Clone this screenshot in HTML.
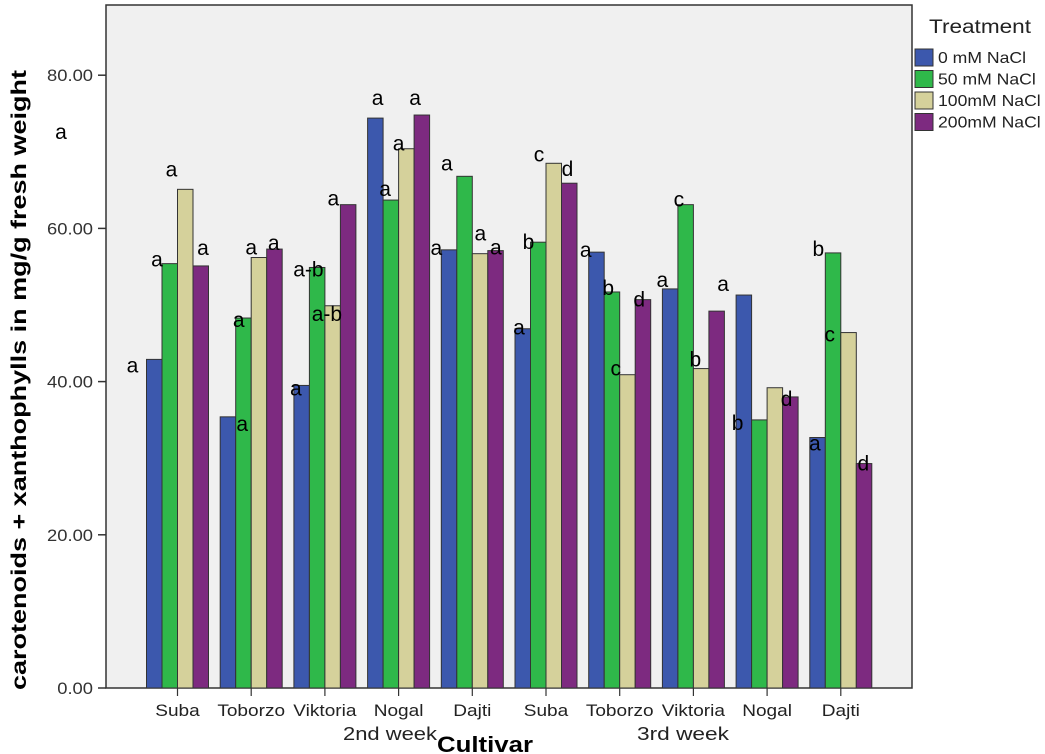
<!DOCTYPE html>
<html><head><meta charset="utf-8"><style>
html,body{margin:0;padding:0;background:#fff;}
svg{display:block;font-family:"Liberation Sans",Arial,sans-serif;}
</style></head><body>
<svg id="chart" width="1045" height="754" viewBox="0 0 1045 754">
<rect x="106" y="5" width="806" height="683" fill="#f0f0f0" stroke="#333" stroke-width="1.5"/>
<g id="yaxis"></g>
<g id="bars"></g>
<g id="letters"></g>
<g id="xaxis"></g>
<text x="61" y="139" font-size="21" text-anchor="middle">a</text>
<text transform="translate(26,380) rotate(-90)" font-size="21" font-weight="bold" text-anchor="middle" textLength="620" lengthAdjust="spacingAndGlyphs">carotenoids + xanthophylls in mg/g fresh weight</text>
<text x="390" y="740" font-size="18" text-anchor="middle" fill="#222" textLength="94" lengthAdjust="spacingAndGlyphs">2nd week</text>
<text x="683" y="740" font-size="18" text-anchor="middle" fill="#222" textLength="92" lengthAdjust="spacingAndGlyphs">3rd week</text>
<text x="485" y="752" font-size="22" font-weight="bold" text-anchor="middle" textLength="96" lengthAdjust="spacingAndGlyphs">Cultivar</text>
<g id="legend">
<text x="929" y="33" font-size="19" fill="#222" textLength="102" lengthAdjust="spacingAndGlyphs">Treatment</text>
</g>
</svg>
<script>
const categories=["Suba","Toborzo","Viktoria","Nogal","Dajti","Suba","Toborzo","Viktoria","Nogal","Dajti"];
const seriesNames=["0 mM NaCl","50 mM NaCl","100mM NaCl","200mM NaCl"];
const s0=[42.9,35.4,39.5,74.4,57.2,46.9,56.9,52.1,51.3,32.7];
const s50=[55.4,48.3,54.9,63.7,66.8,58.2,51.7,63.1,35.0,56.8];
const s100=[65.1,56.2,49.9,70.4,56.7,68.5,40.9,41.7,39.2,46.4];
const s200=[55.1,57.3,63.1,74.8,57.1,65.9,50.7,49.2,38.0,29.3];
const yTicks=[0,20,40,60,80];
const letters=[
["a","a","a","a"],["a","a","a","a"],["a","a-b","a-b","a"],["a","a","a","a"],["a","a","a","a"],
["a","b","c","d"],["a","b","c","d"],["a","c","b",""],["a","b","","d"],["a","b","c","d"]];
const letterOffsets=[
[[-14,12],[-5,2],[-6,-14],[10,-12]],[[22,13],[3,8],[0,-4],[7,0]],[[2,9],[-1,8],[2,14],[-7,0]],[[10,-14],[2,-5],[0,1],[1,-11]],[[-5,4],[-10,-7],[8,-14],[8,3]],
[[4,5],[-2,6],[-7,-3],[6,-8]],[[-3,4],[4,2],[-4,0],[4,6]],[[0,-3],[1,1],[2,-3],[0,0]],[[-13,-5],[-14,9],[0,0],[4,8]],[[5,12],[-7,2],[-11,8],[7,6]]];
const series=[s0,s50,s100,s200];
const colors=["#3c58ad","#2fb84a","#d5d19b","#7d2a80"];
const NS="http://www.w3.org/2000/svg";
const y0=688,yPer=7.66;
function yS(v){return y0-v*yPer;}
function xC(i){return 177.5+i*73.7;}
const bw=15.5;
function mk(t,a,p){const e=document.createElementNS(NS,t);for(const k in a)e.setAttribute(k,a[k]);p.appendChild(e);return e;}
function widen(t,f){const w=t.getComputedTextLength();t.setAttribute('textLength',w*f);t.setAttribute('lengthAdjust','spacingAndGlyphs');}
const ya=document.getElementById('yaxis');
yTicks.forEach(t=>{
 const l=mk('line',{x1:98,x2:106,y1:yS(t),y2:yS(t),stroke:'#333','stroke-width':1.5},ya);
 
 
 const tx=mk('text',{x:93,y:yS(t)+6,'font-size':17,'text-anchor':'end',fill:'#333'},ya);
 tx.textContent=t.toFixed(2);
 
 
 widen(tx,1.08);
});
const bg=document.getElementById('bars'),lg=document.getElementById('letters'),xa=document.getElementById('xaxis');
categories.forEach((c,i)=>{
 const left=xC(i)-2*bw;
 series.forEach((s,j)=>{
  const x=left+j*bw,top=yS(s[i]);
  const r=mk('rect',{x:x,y:top,width:bw,height:y0-top,fill:colors[j],stroke:'#333','stroke-width':1},bg);
  
  
  const L=letters[i][j];
  if(L){const o=letterOffsets[i][j];
   const t=mk('text',{x:x+o[0],y:top+o[1]+1,'font-size':21,'text-anchor':'middle'},lg);
   t.textContent=L;
   
   }
 });
 const tk=mk('line',{x1:xC(i),x2:xC(i),y1:688,y2:696,stroke:'#333','stroke-width':1.2},xa);
 
 
 const tl=mk('text',{x:xC(i),y:716,'font-size':17,'text-anchor':'middle',fill:'#222'},xa);
 tl.textContent=c;
 
 
 widen(tl,1.12);
});
const lgd=document.getElementById('legend');
seriesNames.forEach((n,j)=>{
 const y=49+j*21.5;
 const r=mk('rect',{x:915,y:y,width:18,height:17,fill:colors[j],stroke:'#333','stroke-width':1},lgd);
 
 
 const t=mk('text',{x:938,y:y+14,'font-size':16,fill:'#222'},lgd);
 t.textContent=n;
 
 
 widen(t,1.1);
});
</script>
</body></html>
